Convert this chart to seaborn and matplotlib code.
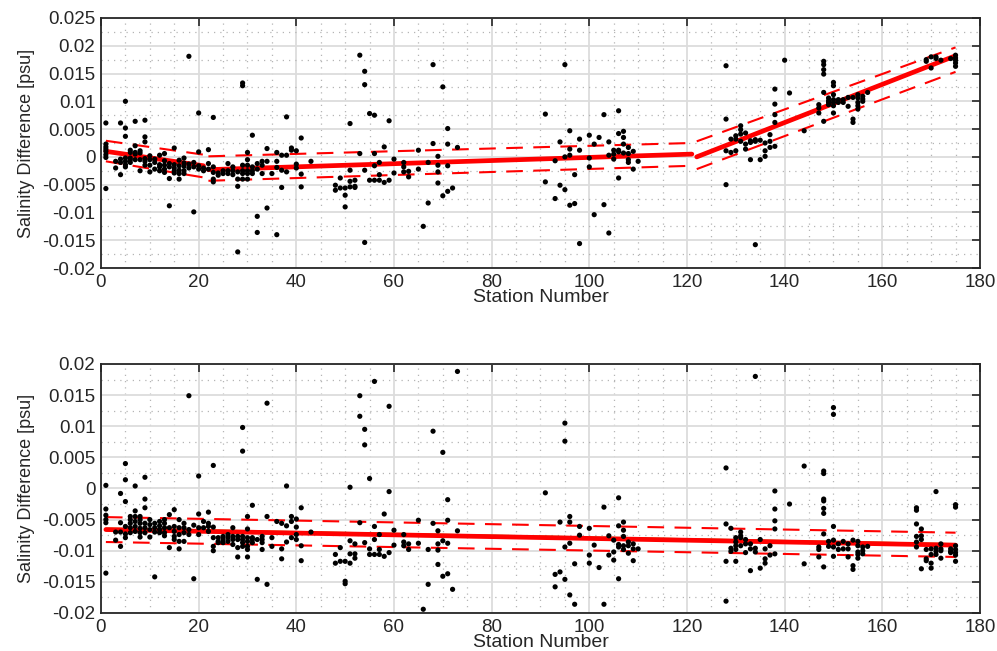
import numpy as np
import pandas as pd
import matplotlib
matplotlib.use("Agg")
import matplotlib.pyplot as plt
import matplotlib.ticker as mticker
import seaborn as sns

# ---- top panel: salinity difference per station ----
top_stations = [1, 3, 4, 5, 6, 7, 8, 9, 10, 11, 12, 13, 14, 15, 16, 17, 18, 19, 20, 21,
                22, 23, 24, 25, 26, 27, 28, 29, 30, 31, 32, 33, 34, 35, 36, 37, 38, 39, 40, 41,
                43, 48, 49, 50, 51, 52, 53, 54, 55, 56, 57, 58, 59, 60, 62, 63, 65, 66, 67, 68,
                69, 70, 71, 72, 73, 91, 93, 94, 95, 96, 97, 98, 100, 101, 102, 103, 104, 105, 106, 107,
                108, 109, 110, 128, 129, 130, 131, 132, 133, 134, 135, 136, 137, 138, 140, 141, 144, 147, 148, 149,
                150, 151, 152, 153, 154, 155, 156, 157, 169, 170, 171, 172, 174, 175]
top_values = [
    [0.0061, 0.0023, 0.0018, 0.0014, 0.001, 0.0004, -0.0001, -0.0057],
    [-0.0008, -0.002],
    [0.0061, -0.0004, -0.001, -0.0032],
    [0.01, 0.0052, 0.0037, -0.0002, -0.0008, -0.0014, -0.0018],
    [0.0012, 0.0008, -0.0002, -0.0005, -0.001],
    [0.0064, 0.002, 0.0008, 0.0005, -0.0005],
    [0.0011, 0.0007, -0.0005, -0.0025],
    [0.0066, 0.0036, 0.0027, -0.0003, -0.0008, -0.0015],
    [0.0002, -0.0005, -0.0015, -0.0027],
    [-0.0004, -0.001, -0.0022],
    [0.0003, -0.0014, -0.0018, -0.0025],
    [0.0006, -0.0007, -0.0015, -0.0022, -0.0028],
    [-0.0012, -0.0018, -0.0039, -0.0088],
    [0.0016, -0.0014, -0.002, -0.0025, -0.0029],
    [-0.0006, -0.0016, -0.0024, -0.003, -0.004],
    [-0.0002, -0.0011, -0.0017, -0.0025, -0.003],
    [0.0181, -0.0013, -0.002],
    [-0.001, -0.0018, -0.0099],
    [0.0079, 0.0009, -0.0016, -0.0022],
    [-0.002, -0.0025],
    [0.0013, -0.0012, -0.0022],
    [0.0071, -0.0018, -0.0028, -0.004, -0.0045],
    [-0.0029, -0.0033],
    [-0.0025, -0.003],
    [-0.0012, -0.0025, -0.003],
    [-0.0018, -0.0025, -0.0032],
    [-0.0027, -0.004, -0.0053, -0.0171],
    [0.0133, 0.0128, -0.0015, -0.0025, -0.003, -0.004],
    [0.0008, -0.0005, -0.0015, -0.0025, -0.003, -0.004],
    [0.0039, -0.0018, -0.0025, -0.003],
    [-0.0012, -0.0022, -0.0107, -0.0136],
    [-0.0008, -0.0015, -0.003],
    [0.0015, -0.0008, -0.0092],
    [-0.003],
    [0.0008, -0.0008, -0.0019, -0.014],
    [0.0003, -0.0024, -0.0055],
    [0.0072, 0.0003, -0.0027],
    [0.0016, 0.0012],
    [0.0011, -0.0013, -0.002],
    [0.0034, -0.0031, -0.0054],
    [-0.0008],
    [-0.0051, -0.006],
    [-0.0038, -0.0056],
    [-0.0056, -0.0069, -0.009],
    [0.006, -0.0024, -0.0044, -0.0054],
    [-0.0042, -0.0053, -0.0055],
    [0.0183, 0.0006],
    [0.0154, 0.013, -0.0024, -0.0154],
    [0.0078, -0.0042],
    [0.0075, 0.0006, -0.0016, -0.0042],
    [-0.001, -0.0032, -0.0042],
    [0.0018, -0.0046],
    [0.0065, -0.0042],
    [-0.0004, -0.0029],
    [-0.001, -0.0018, -0.0027],
    [-0.0026, -0.0036],
    [0.0012, -0.0022],
    [-0.0125],
    [-0.001, -0.0083],
    [0.0166, 0.0024],
    [0.0001, -0.0015, -0.0027, -0.0047],
    [0.0126, -0.007],
    [0.0051, 0.0023, -0.0016, -0.0062],
    [-0.0056],
    [0.0017],
    [0.0077, -0.0045],
    [-0.0007, -0.0075],
    [0.0027, -0.0051],
    [0.0166, 0.0, -0.0059],
    [0.0047, 0.0014, 0.0003, -0.0087],
    [-0.0032, -0.0084],
    [0.0032, 0.0012, -0.0156],
    [0.0039, -0.0002, -0.0018],
    [0.0023, -0.0104],
    [0.0035],
    [0.0076, -0.0086],
    [0.0027, 0.0003, -0.0137],
    [0.0012, 0.0005, -0.0004],
    [0.0083, 0.0042, 0.0012, 0.0009, -0.0038],
    [0.0046, 0.0035, 0.0023, 0.0007],
    [0.0017, 0.0006, -0.0005, -0.001],
    [0.001, -0.0022],
    [-0.0008],
    [0.0164, 0.0068, 0.0011, -0.005],
    [0.0032, 0.0008],
    [0.0038, 0.0032, 0.0011],
    [0.0056, 0.0049, 0.0041, 0.0028],
    [0.0043, 0.0023, 0.0014],
    [0.0029, 0.0026, -0.0005],
    [0.0031, 0.0028, -0.0158],
    [0.003, -0.0005],
    [0.0025, 0.0011, 0.0001],
    [0.004, 0.0028, 0.0017],
    [0.0122, 0.0095, 0.0076, 0.0062, 0.0019],
    [0.0174],
    [0.0115],
    [0.0047],
    [0.0094, 0.0088, 0.0079],
    [0.0172, 0.0166, 0.0157, 0.0149, 0.0116, 0.0064],
    [0.0106, 0.0101, 0.0098, 0.0094],
    [0.0134, 0.0128, 0.0112, 0.0103, 0.0098, 0.0092, 0.0079],
    [0.0103, 0.0098],
    [0.0103, 0.0098],
    [0.0107, 0.0091],
    [0.0107, 0.0068, 0.0062],
    [0.0112, 0.0106, 0.0098, 0.0092, 0.0086],
    [0.0109, 0.0104, 0.01],
    [0.0116],
    [0.0175, 0.0172],
    [0.018, 0.016],
    [0.018, 0.0177],
    [0.0174],
    [0.0177],
    [0.0183, 0.0178, 0.0174, 0.0169, 0.0163],
]

# piecewise fit (three segments) and its confidence band, top panel
top_fit_x = [[1, 21], [22, 121], [122, 175]]
top_fit_y = [[0.0010, -0.0016], [-0.0023, 0.0005], [0.0000, 0.0182]]
top_upper = [[0.0029, 0.0004], [0.0001, 0.0025], [0.0028, 0.0197]]
top_lower = [[-0.0008, -0.0037], [-0.0043, -0.0016], [-0.0022, 0.0153]]

# ---- bottom panel ----
bot_stations = [1, 3, 4, 5, 6, 7, 8, 9, 10, 11, 12, 13, 14, 15, 16, 17, 18, 19, 20, 21,
                22, 23, 24, 25, 26, 27, 28, 29, 30, 31, 32, 33, 34, 35, 36, 37, 38, 39, 40, 41,
                43, 48, 49, 50, 51, 52, 53, 54, 55, 56, 57, 58, 59, 60, 62, 63, 65, 66, 67, 68,
                69, 70, 71, 72, 73, 91, 93, 94, 95, 96, 97, 98, 100, 101, 102, 103, 104, 105, 106, 107,
                108, 109, 110, 128, 129, 130, 131, 132, 133, 134, 135, 136, 137, 138, 141, 144, 147, 148, 149, 150,
                151, 152, 153, 154, 155, 156, 157, 167, 168, 169, 170, 171, 172, 174, 175]
bot_values = [
    [0.0005, -0.0033, -0.0043, -0.005, -0.0055, -0.0136],
    [-0.007, -0.0083],
    [-0.0008, -0.0055, -0.007, -0.0093],
    [0.004, 0.0014, -0.0021, -0.0061, -0.0073, -0.0079],
    [-0.0045, -0.005, -0.0056, -0.0063, -0.0071],
    [0.0004, -0.0036, -0.0045, -0.0053, -0.0061, -0.0069],
    [-0.0045, -0.005, -0.0056, -0.0064, -0.0071, -0.0078],
    [0.0018, -0.0017, -0.0031, -0.0056, -0.0063, -0.0071],
    [-0.005, -0.0058, -0.0066, -0.0078],
    [-0.0056, -0.0063, -0.007, -0.0142],
    [-0.0053, -0.006, -0.0066, -0.0071],
    [-0.005, -0.0056, -0.0063, -0.0071, -0.0076],
    [-0.0042, -0.0063, -0.0095],
    [-0.0034, -0.0061, -0.0069, -0.0077, -0.0082],
    [-0.005, -0.0063, -0.0074, -0.0085, -0.0097],
    [-0.0056, -0.0063, -0.0071, -0.0085],
    [0.0149, -0.0066, -0.0074],
    [-0.0059, -0.0145],
    [0.002, -0.0041, -0.0063, -0.0074],
    [-0.0053, -0.0063],
    [-0.0038, -0.0056, -0.0061, -0.0069],
    [0.0037, -0.0062, -0.0079, -0.0093, -0.01],
    [-0.0079, -0.0085, -0.0087],
    [-0.0077, -0.0082, -0.0087],
    [-0.0074, -0.0079, -0.0085],
    [-0.0063, -0.0077, -0.0082, -0.009],
    [-0.0077, -0.0082, -0.0095, -0.011],
    [0.0098, 0.006, -0.0077, -0.0082, -0.0087, -0.0093],
    [-0.0045, -0.0065, -0.0079, -0.0085, -0.0093, -0.0098, -0.011],
    [-0.0027, -0.0079, -0.0082, -0.0087],
    [-0.0082, -0.0146],
    [-0.0077, -0.0082, -0.0087, -0.0098],
    [0.0137, -0.0045, -0.0154],
    [-0.0079, -0.0093],
    [-0.0053],
    [-0.0056, -0.0097, -0.0113],
    [0.0004, -0.006, -0.0086],
    [-0.0045, -0.0053, -0.0079],
    [-0.0049, -0.0062, -0.0074, -0.0082],
    [-0.0031, -0.0092, -0.0116],
    [-0.007],
    [-0.0106, -0.012],
    [-0.0095, -0.0117],
    [-0.0117, -0.0149, -0.0153],
    [0.0002, -0.0084, -0.0105, -0.012],
    [-0.0089, -0.0105, -0.0112],
    [0.0149, 0.0116, -0.0055],
    [0.0095, 0.007, -0.0087],
    [0.0016, -0.0097, -0.0106],
    [0.0172, -0.0061, -0.0082, -0.0106],
    [-0.0074, -0.0098, -0.0106],
    [-0.0041, -0.0109],
    [0.0132, -0.0005, -0.0103],
    [-0.0067, -0.0091],
    [-0.0074, -0.0086, -0.0092],
    [-0.0089, -0.0098],
    [-0.0051, -0.0088],
    [-0.0194],
    [-0.0098, -0.0154],
    [0.0092, -0.0056],
    [-0.0068, -0.0089, -0.0099, -0.0122],
    [0.0058, -0.0084, -0.0141],
    [-0.0018, -0.0051, -0.0088, -0.0137],
    [-0.0162],
    [0.0188, -0.0068],
    [-0.0007],
    [-0.0138, -0.0158],
    [-0.0054, -0.0134],
    [0.0105, 0.0076, -0.0094, -0.0146],
    [-0.0045, -0.0054, -0.0088, -0.0171],
    [-0.0121, -0.0186],
    [-0.0061, -0.0075],
    [-0.0064, -0.0107, -0.012],
    [-0.0091],
    [-0.0127],
    [-0.003, -0.0186],
    [-0.0076, -0.0107],
    [-0.0083, -0.0102, -0.0115],
    [-0.0015, -0.006, -0.009, -0.0094, -0.0145],
    [-0.0054, -0.0067, -0.0077, -0.0092, -0.0098],
    [-0.0086, -0.0092, -0.0104],
    [-0.0089, -0.0097, -0.0116],
    [-0.0097],
    [0.0033, -0.0057, -0.0117, -0.0181],
    [-0.0064, -0.0096, -0.0101],
    [-0.0079, -0.0086, -0.0092, -0.0098, -0.0117],
    [-0.007, -0.0076, -0.0079, -0.0092],
    [-0.0082, -0.0089, -0.0103],
    [-0.0089, -0.0097, -0.0132],
    [0.018, -0.0096, -0.0102],
    [-0.0082, -0.0128],
    [-0.0097, -0.0113, -0.012],
    [-0.0092, -0.0107],
    [-0.0004, -0.0033, -0.0052, -0.0065, -0.0105],
    [-0.0025],
    [0.0036, -0.0121],
    [-0.0094, -0.0098, -0.011],
    [0.0028, 0.0024, -0.0017, -0.002, -0.0032, -0.004, -0.0073, -0.0126],
    [-0.0085, -0.0093],
    [0.013, 0.0119, -0.0061, -0.0083, -0.0094, -0.0109],
    [-0.0089, -0.0098],
    [-0.0085, -0.0097],
    [-0.0089, -0.0097, -0.011],
    [-0.0083, -0.0124, -0.013],
    [-0.0085, -0.0092, -0.0102, -0.0106, -0.0112],
    [-0.0094, -0.01, -0.0105],
    [-0.0093],
    [-0.0031, -0.0035, -0.0057, -0.0077, -0.0086, -0.0094],
    [-0.0065, -0.0076, -0.0082, -0.0129],
    [-0.0098, -0.0113, -0.0116],
    [-0.0097, -0.0106, -0.012, -0.0128],
    [-0.0005, -0.0096, -0.0101, -0.0106],
    [-0.0089, -0.0097, -0.01, -0.0112],
    [-0.0097, -0.0101, -0.0103],
    [-0.0026, -0.003, -0.0092, -0.0098, -0.0103, -0.0107, -0.0117],
]

bot_fit_x = [1, 175]
bot_fit_y = [-0.0066, -0.0091]
bot_fit_olive = [-0.0064, -0.0089]
bot_upper = [-0.0046, -0.0071]
bot_lower = [-0.0086, -0.0110]


def to_frame(stations, values):
    rows = []
    for s, vals in zip(stations, values):
        for v in vals:
            rows.append({"station": s, "dsal": v})
    return pd.DataFrame(rows)


def style_axes(ax, ylim, yticks):
    ax.set_xlim(0, 180)
    ax.set_ylim(*ylim)
    ax.set_xticks(np.arange(0, 181, 20))
    ax.set_yticks(yticks)
    ax.xaxis.set_minor_locator(mticker.MultipleLocator(5))
    ax.yaxis.set_minor_locator(mticker.MultipleLocator(0.0025))
    ax.yaxis.set_major_formatter(mticker.FuncFormatter(lambda v, p: "%g" % round(v, 4)))
    ax.grid(True, which="major", color="#dcdcdc", lw=1.3, ls="-")
    ax.grid(True, which="minor", color="#b5b5b5", lw=0.9, ls=(0, (1, 4)))
    ax.set_axisbelow(True)
    ax.tick_params(which="major", direction="in", length=6, width=1.2, color="#262626",
                   top=True, right=True, labelsize=13.5, labelcolor="#262626", pad=4)
    ax.tick_params(which="minor", length=0, top=True, right=True)
    for sp in ax.spines.values():
        sp.set_color("#262626")
        sp.set_linewidth(1.3)
        sp.set_visible(True)
    ax.set_xlabel("Station Number", fontsize=14, color="#262626", labelpad=-1)
    ax.set_ylabel("Salinity Difference [psu]", fontsize=13, color="#262626", labelpad=5)


sns.set_theme(style="white")
plt.rcParams["font.family"] = ["Liberation Sans", "DejaVu Sans"]

fig = plt.figure(figsize=(9.97, 6.51), dpi=100)
ax1 = fig.add_axes([0.1013, 0.5883, 0.8816, 0.3841])
ax2 = fig.add_axes([0.1013, 0.0584, 0.8816, 0.3825])

dash = (0, (8, 5))

# top
df_top = to_frame(top_stations, top_values)
for xs, yc, yu, yl in zip(top_fit_x, top_fit_y, top_upper, top_lower):
    ax1.plot(xs, yu, color="red", lw=1.5, ls=dash, zorder=3)
    ax1.plot(xs, yl, color="red", lw=1.5, ls=dash, zorder=3)
    sns.lineplot(x=xs, y=yc, color="red", lw=3.4, ax=ax1, zorder=4)
sns.scatterplot(data=df_top, x="station", y="dsal", color="black", s=14,
                edgecolor="none", ax=ax1, zorder=5)
style_axes(ax1, (-0.02, 0.025), np.arange(-0.02, 0.0251, 0.005))

# bottom
df_bot = to_frame(bot_stations, bot_values)
ax2.plot(bot_fit_x, bot_upper, color="red", lw=1.5, ls=dash, zorder=3)
ax2.plot(bot_fit_x, bot_lower, color="red", lw=1.5, ls=dash, zorder=3)
sns.lineplot(x=bot_fit_x, y=bot_fit_olive, color="#9a8a00", lw=1.2, ax=ax2, zorder=3)
sns.lineplot(x=bot_fit_x, y=bot_fit_y, color="red", lw=3.4, ax=ax2, zorder=4)
sns.scatterplot(data=df_bot, x="station", y="dsal", color="black", s=14,
                edgecolor="none", ax=ax2, zorder=5)
style_axes(ax2, (-0.02, 0.02), np.arange(-0.02, 0.0201, 0.005))

fig.savefig("out.png", dpi=100)
